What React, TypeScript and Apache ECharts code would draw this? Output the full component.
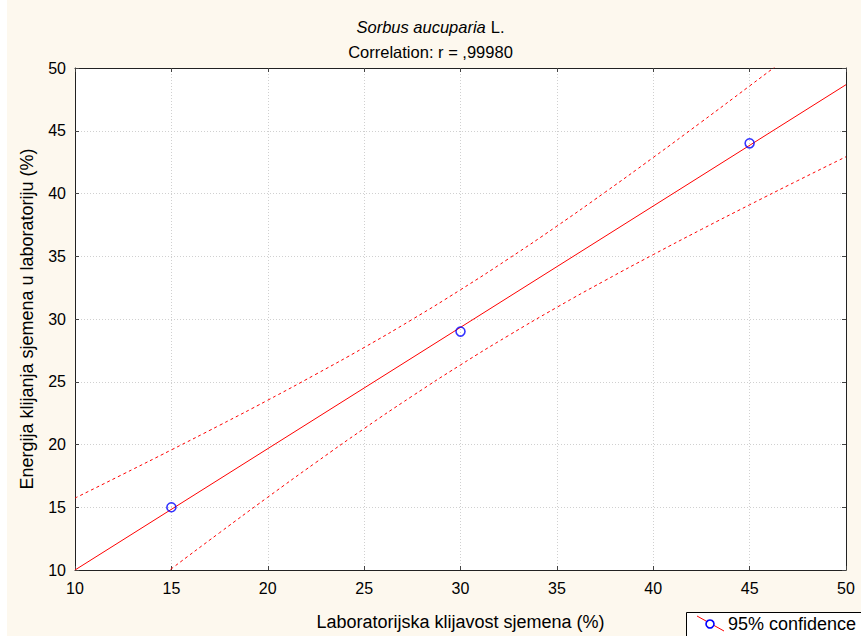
import React, { useEffect, useRef } from "react";
import * as echarts from "echarts";

const observedX = [15, 30, 45];
const observedY = [15, 29, 44];

const fitX = [10, 50];
const fitY = [10.0, 48.67];

const bandX = [10, 12.5, 15, 17.5, 20, 22.5, 25, 27.5, 30, 32.5, 35, 37.5, 40, 42.5, 45, 47.5, 50];
const upperY = [15.73, 17.64, 19.57, 21.53, 23.53, 25.6, 27.73, 29.97, 32.33, 34.81, 37.4, 40.1, 42.87, 45.7, 48.57, 51.47, 54.4];
const lowerY = [4.27, 7.19, 10.1, 12.97, 15.8, 18.57, 21.27, 23.86, 26.34, 28.69, 30.93, 33.07, 35.13, 37.14, 39.1, 41.03, 42.93];

const ticks = [10, 15, 20, 25, 30, 35, 40, 45, 50];

const FONT = "'Liberation Sans', Arial, sans-serif";
const RED = "#ff0000";
const BLUE = "#0000ff";

export default function App() {
  const ref = useRef<HTMLDivElement>(null);
  useEffect(() => {
    if (!ref.current) return;
    const chart = echarts.init(ref.current, undefined, { renderer: "svg" });
    const pair = (xs: number[], ys: number[]) => xs.map((x, i) => [x, ys[i]]);
    const axisCommon = {
      type: "value",
      min: ticks[0],
      max: ticks[ticks.length - 1],
      interval: 5,
      axisLine: { show: true, lineStyle: { color: "#222", width: 1 } },
      axisTick: { show: true, inside: true, length: 4, lineStyle: { color: "#444" } },
    };
    const gridLine = { show: true, lineStyle: { color: "#d0d0d0", type: [1, 2], width: 1 } };
    chart.setOption({
      animation: false,
      backgroundColor: "#fdf8ee",
      textStyle: { fontFamily: FONT },
      title: {
        text: "{i|Sorbus aucuparia} {n|L.}\n{n|Correlation: r = ,99980}",
        left: "center",
        top: 9,
        textStyle: {
          fontWeight: "normal",
          rich: {
            i: { fontStyle: "italic", fontWeight: "normal", fontSize: 16.5, fontFamily: FONT, color: "#000", lineHeight: 25 },
            n: { fontWeight: "normal", fontSize: 16.5, fontFamily: FONT, color: "#000", lineHeight: 25 },
          },
        },
      },
      grid: { left: 75, right: 15, top: 68, bottom: 61, backgroundColor: "#fff", show: true, borderWidth: 0 },
      xAxis: [
        {
          ...axisCommon,
          position: "bottom",
          name: "Laboratorijska klijavost sjemena (%)",
          nameLocation: "middle",
          nameGap: 43,
          nameTextStyle: { fontSize: 18, color: "#000", fontFamily: FONT },
          axisLabel: { fontSize: 16, color: "#000", margin: 10, fontFamily: FONT },
          splitLine: gridLine,
        },
        {
          ...axisCommon,
          position: "top",
          axisLabel: { show: false },
          splitLine: { show: false },
        },
      ],
      yAxis: [
        {
          ...axisCommon,
          position: "left",
          name: "Energija klijanja sjemena u laboratoriju (%)",
          nameLocation: "middle",
          nameRotate: 90,
          nameGap: 39,
          nameTextStyle: { fontSize: 18, color: "#000", fontFamily: FONT },
          axisLabel: { fontSize: 16, color: "#000", margin: 9, fontFamily: FONT },
          splitLine: gridLine,
        },
        {
          ...axisCommon,
          position: "right",
          axisLabel: { show: false },
          splitLine: { show: false },
        },
      ],
      series: [
        {
          type: "line",
          data: pair(fitX, fitY),
          showSymbol: false,
          lineStyle: { color: RED, width: 1 },
          clip: true,
          silent: true,
        },
        {
          type: "line",
          data: pair(bandX, upperY),
          showSymbol: false,
          smooth: true,
          lineStyle: { color: RED, width: 1, type: [3, 3] },
          clip: true,
          silent: true,
        },
        {
          type: "line",
          data: pair(bandX, lowerY),
          showSymbol: false,
          smooth: true,
          lineStyle: { color: RED, width: 1, type: [3, 3] },
          clip: true,
          silent: true,
        },
        {
          type: "scatter",
          data: pair(observedX, observedY),
          symbol: "circle",
          symbolSize: 9,
          itemStyle: { color: "rgba(255,255,255,0)", borderColor: BLUE, borderWidth: 1.6 },
          z: 5,
        },
      ],
      graphic: [
        { type: "rect", shape: { x: 0, y: 0, width: 7, height: 636 }, style: { fill: "#fff" }, silent: true },
        {
          type: "rect",
          shape: { x: 686.5, y: 612.5, width: 180, height: 30 },
          style: { fill: "#fff", stroke: "#000", lineWidth: 1 },
          silent: true,
        },
        {
          type: "line",
          shape: { x1: 697, y1: 616, x2: 724, y2: 631 },
          style: { stroke: RED, lineWidth: 1 },
          silent: true,
        },
        {
          type: "circle",
          shape: { cx: 710, cy: 624, r: 4 },
          style: { fill: "#fff", stroke: BLUE, lineWidth: 1.6 },
          silent: true,
        },
        {
          type: "text",
          x: 728,
          y: 624,
          style: { text: "95% confidence", fontSize: 18, fontFamily: FONT, fill: "#000", verticalAlign: "middle" },
          silent: true,
        },
      ],
    });
    return () => chart.dispose();
  }, []);
  return (
    <div
      ref={ref}
      style={{ position: "absolute", left: 0, top: 0, width: 861, height: 636 }}
    />
  );
}
